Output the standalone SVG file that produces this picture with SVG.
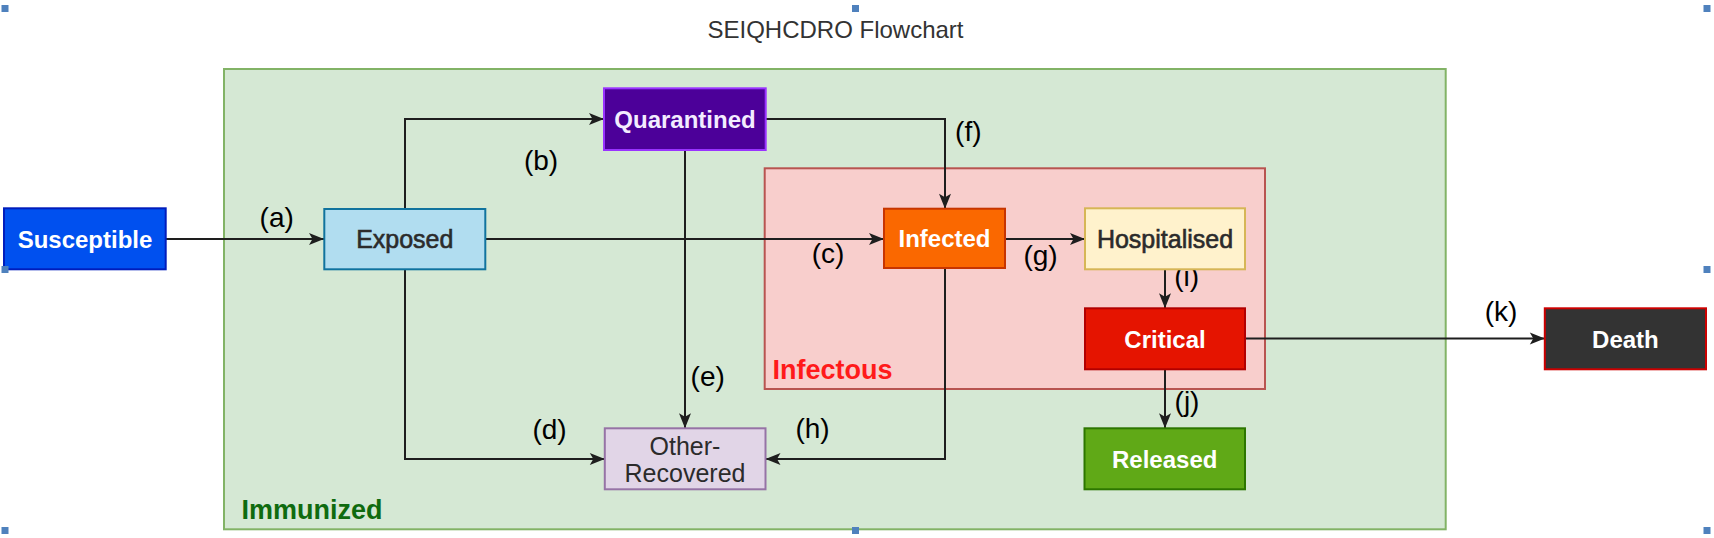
<svg xmlns="http://www.w3.org/2000/svg" width="1714" height="538" viewBox="0 0 1714 538">
<style>
  .node { stroke-width: 2; }
  .lbl { font-family: "Liberation Sans", Arial, sans-serif; font-size: 24px; font-weight: bold; text-anchor: middle; }
  .lt { font-family: "Liberation Sans", Arial, sans-serif; font-size: 25px; text-anchor: middle; fill: #2b2b2b; }
  .semi { stroke: #2b2b2b; stroke-width: 0.6; }
  .w { fill: #ffffff; }
  .edge { fill: none; stroke: #1e1e1e; stroke-width: 2; marker-end: url(#arr); }
  .el { font-family: "Liberation Sans", Arial, sans-serif; font-size: 28px; fill: #000000; text-anchor: middle; }
  .grp { font-family: "Liberation Sans", Arial, sans-serif; font-size: 27px; font-weight: bold; }
  .handle { fill: #4f81bd; }
</style>
<defs>
  <marker id="arr" markerUnits="userSpaceOnUse" markerWidth="17" markerHeight="14" viewBox="0 0 17 14" refX="16" refY="7" orient="auto">
    <path d="M1,1 L16,7 L1,13 L4.5,7 Z" fill="#1e1e1e"/>
  </marker>
</defs>
<rect width="1714" height="538" fill="#ffffff"/>

<text x="835.5" y="38" font-family="Liberation Sans, Arial, sans-serif" font-size="24" fill="#333333" text-anchor="middle">SEIQHCDRO Flowchart</text>

<g id="immunized">
  <rect x="224" y="69" width="1221.7" height="460.3" fill="#d5e8d4" stroke="#82b366" stroke-width="2"/>
  <text class="grp" x="241.5" y="518.5" fill="#0f6b0f">Immunized</text>
</g>
<g id="infectous">
  <rect x="764.7" y="168.3" width="500.3" height="220.7" fill="#f8cecc" stroke="#b85450" stroke-width="2"/>
  <text class="grp" x="772.5" y="379.3" fill="#ff1a1a">Infectous</text>
</g>

<g id="connectors">
  <path class="edge" d="M166,239 L324,239"/>
  <path class="edge" d="M405,209 L405,119 L604,119"/>
  <path class="edge" d="M485,239 L884,239"/>
  <path class="edge" d="M766,119 L945,119 L945,208.7"/>
  <path class="edge" d="M685,150 L685,428.3"/>
  <path class="edge" d="M405,269.3 L405,459 L604.8,459"/>
  <path class="edge" d="M945,268 L945,459 L765.5,459"/>
  <path class="edge" d="M1005,239 L1085,239"/>
  <path class="edge" d="M1165,269.3 L1165,308.3"/>
  <path class="edge" d="M1245,338.5 L1544.8,338.5"/>
  <path class="edge" d="M1165,369.3 L1165,428.3"/>
  <text class="el" x="276.7" y="227">(a)</text>
  <text class="el" x="541" y="170">(b)</text>
  <text class="el" x="828" y="262.5">(c)</text>
  <text class="el" x="549.5" y="438.5">(d)</text>
  <text class="el" x="707.7" y="386">(e)</text>
  <text class="el" x="968.3" y="140.5">(f)</text>
  <text class="el" x="1040.5" y="265">(g)</text>
  <text class="el" x="812.6" y="437.5">(h)</text>
  <text class="el" x="1186.7" y="285.5">(i)</text>
  <text class="el" x="1187" y="411">(j)</text>
  <text class="el" x="1501" y="321">(k)</text>
</g>

<g id="susceptible">
  <rect class="node" x="4" y="208.3" width="161.7" height="61" fill="#0050ef" stroke="#001dbc"/>
  <text class="lbl w" x="85" y="248">Susceptible</text>
</g>
<g id="exposed">
  <rect class="node" x="324.3" y="209" width="161" height="60.3" fill="#b1ddf0" stroke="#10739e"/>
  <text class="lt semi" x="404.8" y="247.7">Exposed</text>
</g>
<g id="quarantined">
  <rect class="node" x="604" y="88.3" width="161.7" height="61.7" fill="#4c0099" stroke="#9933ff"/>
  <text class="lbl" x="685" y="127.7" fill="#f3ecff">Quarantined</text>
</g>
<g id="infected">
  <rect class="node" x="884" y="208.7" width="121" height="59.3" fill="#fa6800" stroke="#c73500"/>
  <text class="lbl w" x="944.5" y="247">Infected</text>
</g>
<g id="hospitalised">
  <rect class="node" x="1085" y="208.3" width="160" height="61" fill="#fff2cc" stroke="#d6b656"/>
  <text class="lt semi" x="1165" y="247.5" font-size="25.5">Hospitalised</text>
</g>
<g id="critical">
  <rect class="node" x="1085" y="308.3" width="160" height="61" fill="#e51400" stroke="#b20000"/>
  <text class="lbl w" x="1165" y="347.5">Critical</text>
</g>
<g id="death">
  <rect class="node" x="1544.8" y="308.3" width="161.2" height="61" fill="#333333" stroke="#cc0000"/>
  <text class="lbl w" x="1625.4" y="347.5">Death</text>
</g>
<g id="released">
  <rect class="node" x="1084.5" y="428.3" width="160.5" height="61" fill="#60a917" stroke="#2d7600"/>
  <text class="lbl w" x="1164.7" y="467.5">Released</text>
</g>
<g id="other-recovered">
  <rect class="node" x="604.8" y="428.3" width="160.7" height="61" fill="#e1d5e7" stroke="#9673a6"/>
  <text class="lt" x="685" y="455" font-size="24.5">Other-</text>
  <text class="lt" x="685" y="481.7" font-size="24.5">Recovered</text>
</g>

<g id="handles">
  <rect class="handle" x="1.5" y="5" width="7" height="7"/>
  <rect class="handle" x="852" y="5" width="7" height="7"/>
  <rect class="handle" x="1703.5" y="5" width="7" height="7"/>
  <rect class="handle" x="1.5" y="266" width="7" height="7"/>
  <rect class="handle" x="1703.5" y="266" width="7" height="7"/>
  <rect class="handle" x="1.5" y="527" width="7" height="7"/>
  <rect class="handle" x="852" y="527" width="7" height="7"/>
  <rect class="handle" x="1703.5" y="527" width="7" height="7"/>
</g>
</svg>
